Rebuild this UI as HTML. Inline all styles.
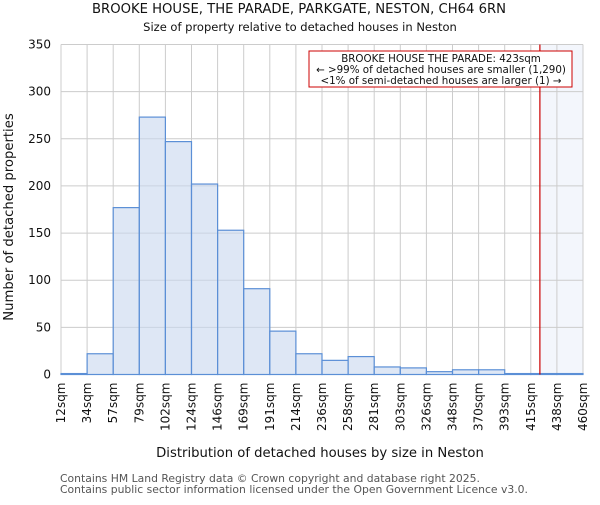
<!DOCTYPE html>
<html><head><meta charset="utf-8"><style>
body{margin:0;background:#fff;font-family:"Liberation Sans","DejaVu Sans",sans-serif}
svg text{font-family:"DejaVu Sans","Liberation Sans",sans-serif}
</style></head><body>
<svg id="c" width="600" height="500" xmlns="http://www.w3.org/2000/svg">
<text x="299" y="13" text-anchor="middle" font-size="13.2" fill="#111">BROOKE HOUSE, THE PARADE, PARKGATE, NESTON, CH64 6RN</text>
<text x="300" y="31" text-anchor="middle" font-size="11.5" fill="#111">Size of property relative to detached houses in Neston</text>
<g id="grid"></g><g id="bars"></g><g id="ax"></g>
<text x="320" y="457" text-anchor="middle" font-size="13.2" fill="#111">Distribution of detached houses by size in Neston</text>
<text transform="translate(13,217) rotate(-90)" text-anchor="middle" font-size="13.2" fill="#111">Number of detached properties</text>
<text x="60" y="482" font-size="10.8" fill="#555">Contains HM Land Registry data © Crown copyright and database right 2025.</text>
<text x="60" y="493" font-size="10.8" fill="#555">Contains public sector information licensed under the Open Government Licence v3.0.</text>
</svg>
<script>
const categories=["12sqm","34sqm","57sqm","79sqm","102sqm","124sqm","146sqm","169sqm","191sqm","214sqm","236sqm","258sqm","281sqm","303sqm","326sqm","348sqm","370sqm","393sqm","415sqm","438sqm","460sqm"];
const counts=[1,22,177,273,247,202,153,91,46,22,15,19,8,7,3,5,5,1,1,1];
const yTicks=[0,50,100,150,200,250,300,350];
const markerValue=423;
const xMin=12,xMax=460;
const L=61,R=583,T=44.5,B=374.5,NS="http://www.w3.org/2000/svg";
const x=v=>L+(v-xMin)/(xMax-xMin)*(R-L);
const y=v=>B-v/350*(B-T);
const bw=(R-L)/counts.length;
function mk(p,t,a){const e=document.createElementNS(NS,t);for(const k in a)e.setAttribute(k,a[k]);document.getElementById(p).appendChild(e);return e;}
const mx=x(markerValue);
let sh=mk('grid','rect',{x:mx,y:T,width:R-mx,height:B-T,fill:'#f3f6fc'});


yTicks.forEach(t=>{
 let g=mk('grid','line',{x1:L,x2:R,y1:y(t),y2:y(t),stroke:'#ccc','stroke-width':1});
 
 
 let tx=mk('ax','text',{x:L-10,y:y(t)+4,'text-anchor':'end','font-size':12,fill:'#111'});
 tx.textContent=t;
 
 
});
categories.forEach((c,i)=>{
 const xx=L+i*bw;
 let g=mk('grid','line',{x1:xx,x2:xx,y1:T,y2:B,stroke:'#ccc','stroke-width':1});
 
 
 let tx=mk('ax','text',{transform:`translate(${xx+4},${B+8}) rotate(-90)`,'text-anchor':'end','font-size':12,fill:'#111'});
 tx.textContent=c;
 
 
});
counts.forEach((v,i)=>{
 let r=mk('bars','rect',{x:L+i*bw,y:y(v),width:bw,height:B-y(v),fill:'rgba(200,215,238,0.6)',stroke:'#5b8fd6','stroke-width':1.2});
 
 
});
let ml=mk('ax','line',{x1:mx,x2:mx,y1:T,y2:B,stroke:'#cc0000','stroke-width':1.2});


let ab=mk('ax','rect',{x:309,y:51,width:263,height:36,fill:'#fff',stroke:'#cc0000','stroke-width':1});


[["BROOKE HOUSE THE PARADE: 423sqm",62],["← >99% of detached houses are smaller (1,290)",73],["<1% of semi-detached houses are larger (1) →",84]].forEach(([s,yy])=>{
 let t=mk('ax','text',{x:441,y:yy,'text-anchor':'middle','font-size':10.3,fill:'#111'});
 t.textContent=s;
 
 
});
</script>
</body></html>
